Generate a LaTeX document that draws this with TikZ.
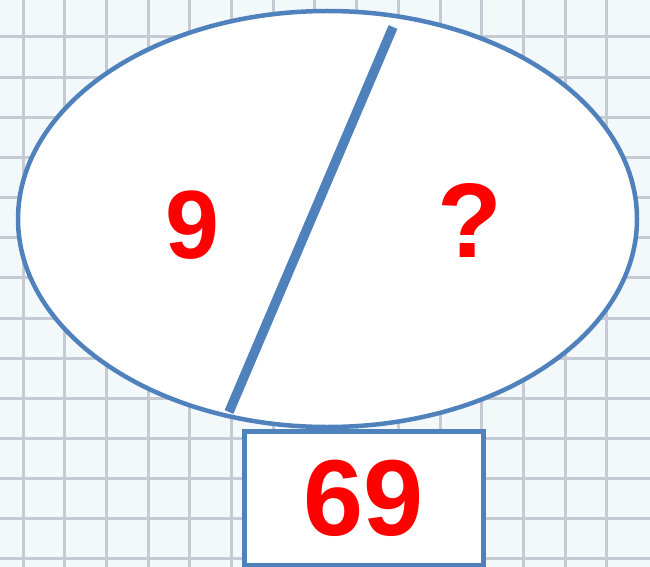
\documentclass[tikz,border=0pt]{standalone}
\usepackage{fontspec}
\setmainfont{Liberation Sans}
\usetikzlibrary{shapes.geometric}
\definecolor{rimblue}{HTML}{4F81BD}
\definecolor{paper}{HTML}{F3F8FA}
\definecolor{gridline}{HTML}{C6CBD3}
\definecolor{numred}{HTML}{FF0000}
\begin{document}
\begin{tikzpicture}[x=1pt,y=-1pt]
  \tikzset{
      rim/.style = {
          draw = rimblue,
          line width = 4.5pt,
          fill = white
      },
      bignum/.style = {
          text = numred,
          inner sep = 0pt,
          font = \bfseries
      }
  }
  \useasboundingbox (0,0) rectangle (650,567);
  % squared paper
  \fill[paper] (0,0) rectangle (650,567);
  \foreach \i in {0,...,14}
      \draw[gridline, line width=3pt] (23+41.7*\i,0) -- (23+41.7*\i,567);
  \foreach \j in {0,...,13}
      \draw[gridline, line width=3pt] (0,37+40.15*\j) -- (650,37+40.15*\j);
  % the split oval and the box under it
  \node[rim, ellipse, minimum width=619pt, minimum height=416pt] (oval) at (327.5,219) {};
  \node[rim, minimum width=239pt, minimum height=134pt, line width=5pt] (sum) at (364,498) {};
  \coordinate (cuttop) at (393,27);
  \coordinate (cutbot) at (229,412);
  \draw[rimblue, line width=9.5pt] (cuttop) -- (cutbot);
  \node[bignum, font=\fontsize{97}{97}\selectfont\bfseries] (left) at (192,225) {9};
  \node[bignum, font=\fontsize{106}{106}\selectfont\bfseries] (right) at (470,220) {?};
  \node[bignum, font=\fontsize{108}{108}\selectfont\bfseries] (total) at (sum) {69};
\end{tikzpicture}
\end{document}
